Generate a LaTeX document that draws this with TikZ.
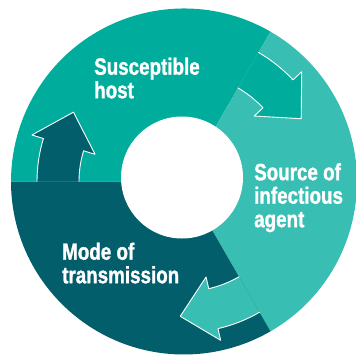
\documentclass[tikz,border=0pt]{standalone}
\usepackage{fontspec}
\newfontfamily\cyclefont{Liberation Sans Bold}[FakeStretch=0.8,FakeBold=1.2]
\usetikzlibrary{calc}
\definecolor{hostcol}{RGB}{0,173,157}
\definecolor{sourcecol}{RGB}{56,190,178}
\definecolor{modecol}{RGB}{3,94,108}
\begin{document}
\begin{tikzpicture}[x=1pt,y=1pt,line join=round,line cap=round,
	cyclelabel/.style={text=white,inner sep=0pt,anchor=north west,align=left,
		font=\cyclefont\fontsize{23.5}{23.5}\selectfont}]
				\useasboundingbox (0,0) rectangle (356,354);
				\clip (0,0) rectangle (356,354);
				\path
				(184,172.5)coordinate(O)
				(182,176.5)coordinate(H)
				;
				%%Vòng
				\foreach \a/\c in {60/hostcol,-60/sourcecol,180/modecol}{
						\fill[\c] (O)--($(O)+(\a:173)$) arc[start angle=\a,delta angle=120,radius=173]--cycle;
					}
				%%Mũi tên
				\foreach \b/\ri/\ro/\c in {180/105/147/modecol,60/108/149/hostcol,300/110/151/sourcecol}{
						\path
						($(O)+(\b:\ri)$)coordinate(P1)
						($(O)+(\b-17:\ri-12)$)coordinate(P2)
						($(O)+(\b-17:{(\ri+\ro)/2})+(\b-107:34)$)coordinate(T)
						($(O)+(\b-17:\ro+12)$)coordinate(P3)
						($(O)+(\b-17:\ro)$)coordinate(P4)
						;
						\fill[\c] (P1) arc[start angle=\b,end angle=\b-17,radius=\ri]--(P2)--(T)--(P3)--(P4) arc[start angle=\b-17,end angle=\b,radius=\ro]--cycle;
						\draw[white,line width=0.9pt] (P1) arc[start angle=\b,end angle=\b-17,radius=\ri]--(P2)--(T)--(P3)--(P4) arc[start angle=\b-17,end angle=\b,radius=\ro];
					}
				%%Lỗ giữa
				\fill[white] (H) circle(61);
				%%Chữ
				\node[cyclelabel] (host) at (94,296.5) {Susceptible\\host};
				\node[cyclelabel] (source) at (254,191) {Source of\\infectious\\agent};
				\node[cyclelabel] (mode) at (62,111.5) {Mode of\\transmission};
			\end{tikzpicture}
\end{document}
